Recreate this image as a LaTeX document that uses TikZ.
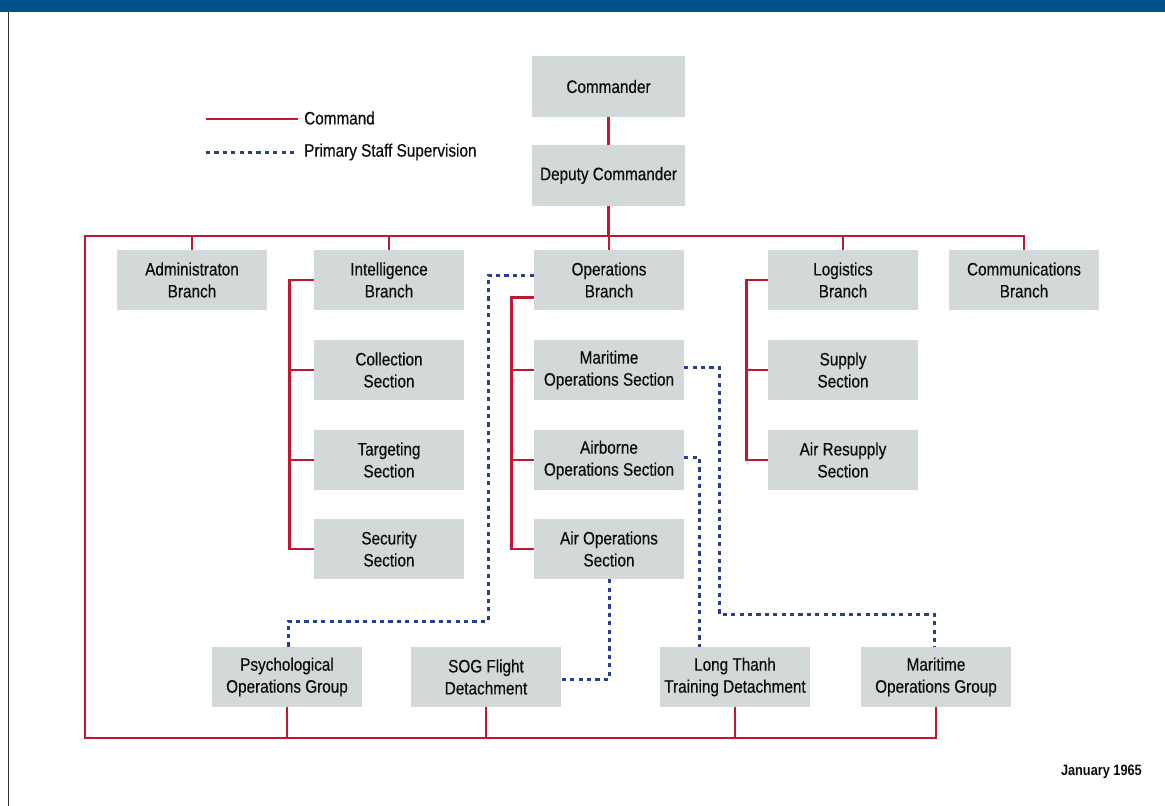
\documentclass[tikz,border=0pt]{standalone}
\usepackage{fontspec}
\setmainfont[FakeStretch=0.85, FakeBold=0.35]{Liberation Sans}
\newfontfamily\datefont[FakeStretch=0.85]{Liberation Sans Bold}
\definecolor{barblue}{RGB}{0,82,136}
\definecolor{cmdred}{RGB}{192,24,48}
\definecolor{supblue}{RGB}{40,62,142}
\definecolor{boxgray}{RGB}{211,216,216}
\definecolor{txt}{RGB}{12,12,12}
\begin{document}
\begin{tikzpicture}[x=1pt,y=-1pt,
  box/.style={fill=boxgray, minimum width=150pt, minimum height=60pt, inner sep=0pt,
    align=center, text=txt, font=\fontsize{18}{22}\selectfont},
  cmdln/.style={draw=cmdred, line width=2.8pt},
  supln/.style={draw=supblue, line width=3pt, dash pattern=on 4.2pt off 4.2pt},
  lgd/.style={anchor=west, text=txt, font=\fontsize{18}{22}\selectfont, inner sep=0pt}]
\useasboundingbox (0,0) rectangle (1165,806);
\fill[barblue] (0,0) rectangle (1165,12);
\draw[black!80, line width=1pt] (8,12) -- (8,806);

% legend
\coordinate (l1a) at (206,119);
\coordinate (l1b) at (298,119);
\coordinate (l2a) at (206,152);
\coordinate (l2b) at (298,152);
\draw[cmdln] (l1a) -- (l1b);
\draw[supln] (l2a) -- (l2b);
\node[lgd] (lg1) at (304,118) {Command};
\node[lgd] (lg2) at (304,152) {Primary Staff Supervision};

% boxes
\node[box, minimum width=153pt, minimum height=61pt] (cmd) at (608.5,86.5) {Commander};
\node[box, minimum width=153pt, minimum height=61pt] (dep) at (608.5,175.5) {Deputy Commander};

\node[box] (adm) at (192,280) {Administraton\\Branch};
\node[box] (intel) at (389,280) {Intelligence\\Branch};
\node[box] (ops) at (609,280) {Operations\\Branch};
\node[box] (log) at (843,280) {Logistics\\Branch};
\node[box] (comm) at (1024,280) {Communications\\Branch};

\node[box] (coll) at (389,370) {Collection\\Section};
\node[box] (targ) at (389,460) {Targeting\\Section};
\node[box] (sec) at (389,549) {Security\\Section};

\node[box] (mar) at (609,370) {Maritime\\Operations Section};
\node[box] (air) at (609,460) {Airborne\\Operations Section};
\node[box] (airops) at (609,549) {Air Operations\\Section};

\node[box] (sup) at (843,370) {Supply\\Section};
\node[box] (ares) at (843,460) {Air Resupply\\Section};

\node[box] (psy) at (287,677) {Psychological\\Operations Group};
\node[box] (sog) at (486,677) {SOG Flight\\Detachment};
\node[box] (lt) at (735,677) {Long Thanh\\Training Detachment};
\node[box] (mog) at (936,677) {Maritime\\Operations Group};

\node[anchor=east, inner sep=0pt, text=txt, font=\datefont\fontsize{15}{18}\selectfont] (date) at (1142,772) {January 1965};

% command lines
\coordinate (tl) at (85,236);
\coordinate (bl) at (85,738);
\draw[cmdln] (cmd) -- (dep);
\draw[cmdln] (dep.south) -- (dep.south |- tl);
\draw[cmdln, line join=miter] (mog.south) |- (bl) -- (tl) -| (comm.north);
\foreach \n in {adm,intel,ops,log} \draw[cmdln] (\n.north) -- (\n.north |- tl);
\foreach \n in {psy,sog,lt} \draw[cmdln] (\n.south) -- (\n.south |- bl);

\draw[cmdln, line join=miter] (intel.west) -- ++(-24,0) |- (sec.west);
\draw[cmdln] (coll.west) -- ++(-24,0);
\draw[cmdln] (targ.west) -- ++(-24,0);

\draw[cmdln, line join=miter] ([yshift=13pt]ops.south west) -- ++(-22,0) |- (airops.west);
\draw[cmdln] (mar.west) -- ++(-22,0);
\draw[cmdln] (air.west) -- ++(-22,0);

\draw[cmdln, line join=miter] (log.west) -- ++(-21,0) |- (ares.west);
\draw[cmdln] (sup.west) -- ++(-21,0);

% supervision lines
\coordinate (d1) at (488,621);
\coordinate (d4) at (719,614);
\draw[supln] ([yshift=5pt]ops.west) -| (d1) -| ([xshift=1pt]psy.north);
\draw[supln] (airops.south) |- ([yshift=-2pt]sog.east);
\draw[supln] ([yshift=3pt]air.east) -| ([xshift=-36pt]lt.north);
\draw[supln] ([yshift=3pt]mar.east) -| (d4) -| ([xshift=-2pt]mog.north);
\end{tikzpicture}
\end{document}
